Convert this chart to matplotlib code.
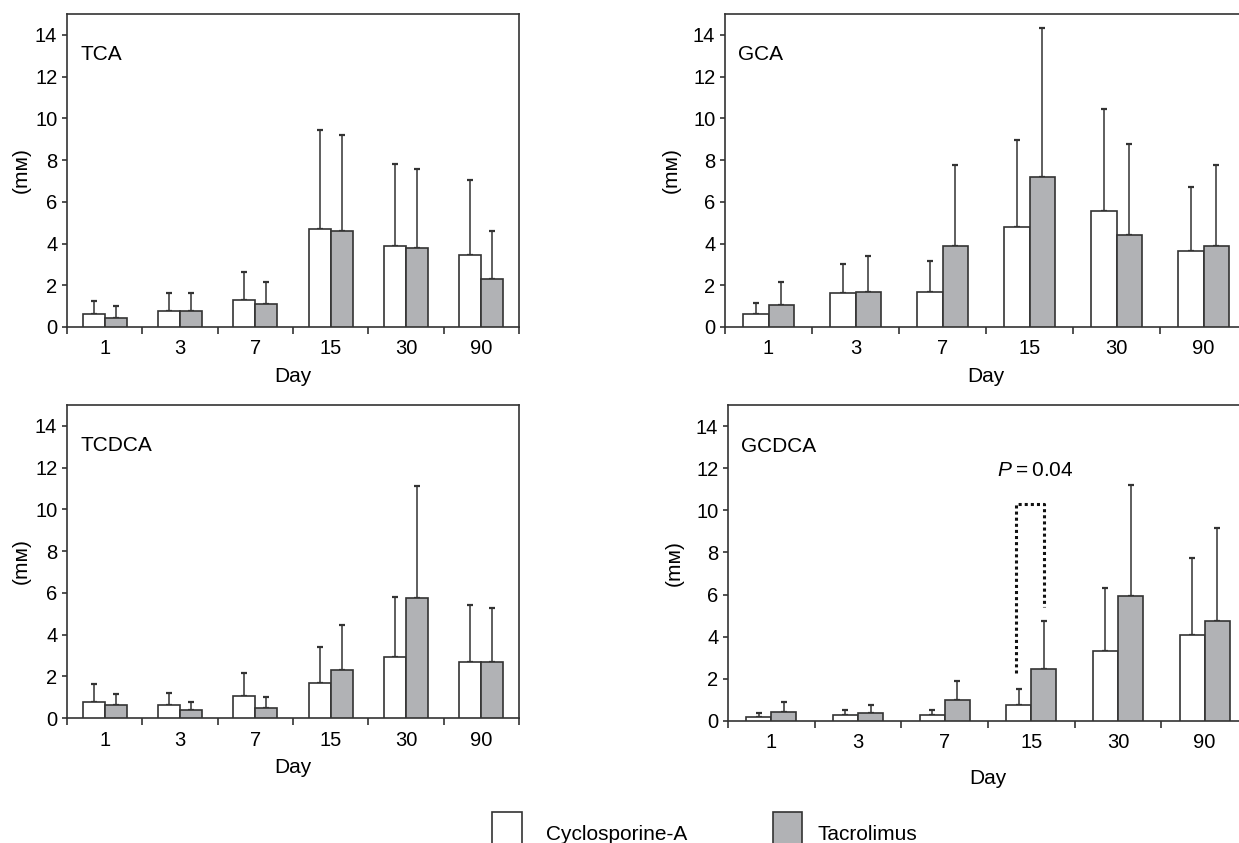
import matplotlib
matplotlib.use("Agg")
import matplotlib.pyplot as plt
import matplotlib.patches as patches
import numpy as np

plt.rcParams['font.family'] = ['Liberation Sans', 'DejaVu Sans']
plt.rcParams['mathtext.fontset'] = 'custom'
plt.rcParams['mathtext.it'] = 'Liberation Sans:italic'
plt.rcParams['mathtext.rm'] = 'Liberation Sans'

# Data (mM), mean and upper error limit
days = ["1", "3", "7", "15", "30", "90"]

tca_csa = [0.62, 0.77, 1.31, 4.72, 3.87, 3.47]
tca_csa_top = [1.23, 1.62, 2.62, 9.46, 7.82, 7.04]
tca_tac = [0.45, 0.77, 1.09, 4.58, 3.79, 2.32]
tca_tac_top = [1.00, 1.62, 2.16, 9.22, 7.58, 4.58]

gca_csa = [0.61, 1.62, 1.70, 4.80, 5.57, 3.65]
gca_csa_top = [1.15, 3.02, 3.17, 8.98, 10.46, 6.72]
gca_tac = [1.07, 1.70, 3.86, 7.20, 4.42, 3.86]
gca_tac_top = [2.14, 3.41, 7.76, 14.34, 8.75, 7.76]

tcdca_csa = [0.77, 0.62, 1.07, 1.70, 2.94, 2.69]
tcdca_csa_top = [1.62, 1.22, 2.16, 3.41, 5.79, 5.42]
tcdca_tac = [0.62, 0.38, 0.46, 2.32, 5.73, 2.69]
tcdca_tac_top = [1.15, 0.77, 1.01, 4.48, 11.14, 5.26]

gcdca_csa = [0.21, 0.30, 0.30, 0.76, 3.30, 4.06]
gcdca_csa_top = [0.36, 0.52, 0.52, 1.53, 6.29, 7.76]
gcdca_tac = [0.44, 0.36, 0.98, 2.45, 5.91, 4.76]
gcdca_tac_top = [0.92, 0.76, 1.90, 4.76, 11.20, 9.15]

W, H = 1239, 843
fig = plt.figure(figsize=(W / 100, H / 100), dpi=100)

def px_axes(left, right, bottom, top):
    return fig.add_axes([left / W, (H - bottom) / H, (right - left) / W, (bottom - top) / H])

edge = "#333333"
gray = "#b1b2b5"
bw = 0.29
fs_tick = 14.5
fs_lab = 15

# name, axes, series..., xlabel pad, ylabel pad
panels = [
    ("TCA", px_axes(67, 519, 327, 14), tca_csa, tca_csa_top, tca_tac, tca_tac_top, 6, 3),
    ("GCA", px_axes(725, 1247, 327, 14), gca_csa, gca_csa_top, gca_tac, gca_tac_top, 6, 9),
    ("TCDCA", px_axes(67, 519, 718, 405), tcdca_csa, tcdca_csa_top, tcdca_tac, tcdca_tac_top, 6, 3),
    ("GCDCA", px_axes(728, 1248, 721, 405), gcdca_csa, gcdca_csa_top, gcdca_tac, gcdca_tac_top, 12, 9),
]

x = np.arange(len(days))
for name, ax, csa, csa_top, tac, tac_top, xpad, ypad in panels:
    xc = x - bw / 2
    xt = x + bw / 2
    ax.bar(xc, csa, bw, color="white", edgecolor=edge, linewidth=1.2, zorder=3)
    ax.bar(xt, tac, bw, color=gray, edgecolor=edge, linewidth=1.2, zorder=3)
    csa_err = np.array(csa_top) - np.array(csa)
    tac_err = np.array(tac_top) - np.array(tac)
    ax.errorbar(xc, csa, yerr=[np.zeros(len(csa)), csa_err], fmt="none",
                ecolor=edge, elinewidth=1.1, capsize=2.5, capthick=1.6, zorder=2)
    ax.errorbar(xt, tac, yerr=[np.zeros(len(tac)), tac_err], fmt="none",
                ecolor=edge, elinewidth=1.1, capsize=2.5, capthick=1.6, zorder=2)

    ax.set_xlim(-0.5, len(days) - 0.5)
    ax.set_ylim(0, 15)
    ax.set_yticks(range(0, 15, 2))
    ax.set_xticks(x)
    ax.set_xticklabels(days)
    ax.set_xticks(np.arange(-0.5, len(days)), minor=True)
    ax.tick_params(axis="x", which="major", length=0, pad=9, labelsize=fs_tick)
    ax.tick_params(axis="x", which="minor", length=5, width=1.2, color=edge, direction="out")
    ax.tick_params(axis="y", length=3.5, width=1.2, color=edge, pad=3.5, labelsize=fs_tick)
    for sp in ax.spines.values():
        sp.set_color(edge)
        sp.set_linewidth(1.2)
    ax.set_xlabel("Day", fontsize=fs_lab, labelpad=xpad)
    ax.set_ylabel("(mᴍ)", fontsize=fs_lab, labelpad=ypad)
    ax.annotate(name, xy=(0, 13.05), xycoords=("axes fraction", "data"),
                xytext=(9.5, 0), textcoords="offset points", va="center", fontsize=fs_lab)

# significance bracket in GCDCA, day 15
ax = panels[3][1]
ax.plot([3 - bw / 2 - 0.03, 3 - bw / 2 - 0.03, 3 + bw / 2, 3 + bw / 2],
        [2.3, 10.3, 10.3, 5.4], color="#111111", linewidth=2.2,
        linestyle=(0, (1, 1)), zorder=4)
ax.text(3.05, 11.9, "$P$\u2009=\u20090.04", ha="center", va="center", fontsize=fs_lab)

# legend
fig.add_artist(patches.Rectangle((492 / W, (H - 850) / H), 30 / W, 38 / H,
                                 facecolor="white", edgecolor=edge, linewidth=1.2,
                                 transform=fig.transFigure))
fig.text(546 / W, (H - 834) / H, "Cyclosporine-A", va="center", fontsize=fs_lab)
fig.add_artist(patches.Rectangle((773 / W, (H - 850) / H), 29 / W, 38 / H,
                                 facecolor=gray, edgecolor=edge, linewidth=1.2,
                                 transform=fig.transFigure))
fig.text(817 / W, (H - 834) / H, "Tacrolimus", va="center", fontsize=fs_lab)

fig.savefig("out.png", dpi=100)
